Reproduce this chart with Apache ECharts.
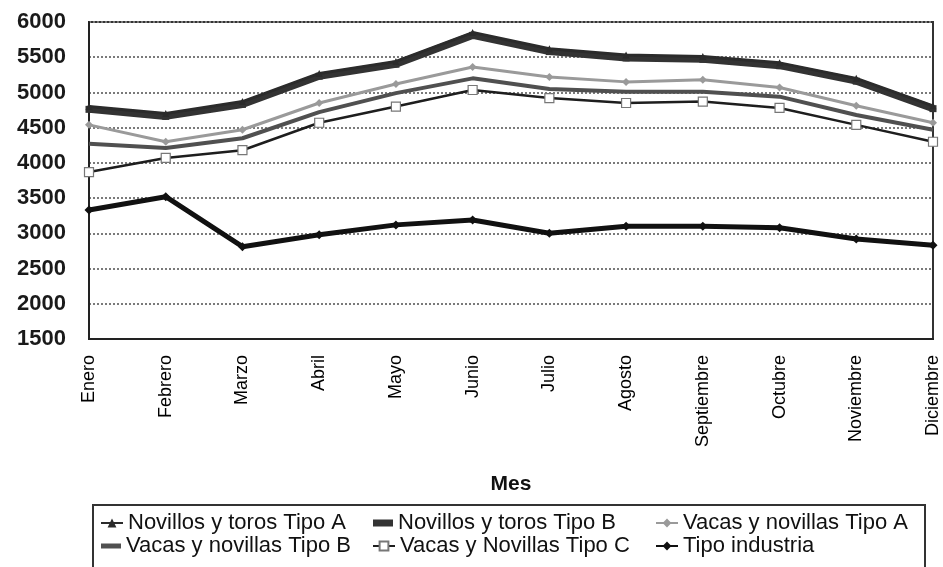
<!DOCTYPE html>
<html>
<head>
<meta charset="utf-8">
<script src="https://cdn.jsdelivr.net/npm/echarts@6/dist/echarts.min.js"></script>
<style>
  html, body { margin: 0; padding: 0; background: #fff; }
  #chart { width: 943px; height: 567px; }
</style>
</head>
<body>
<div id="chart"></div>
<script>
// Monthly prices per cattle category
const meses = ['Enero', 'Febrero', 'Marzo', 'Abril', 'Mayo', 'Junio', 'Julio',
  'Agosto', 'Septiembre', 'Octubre', 'Noviembre', 'Diciembre'];

const novillosA = [4800, 4700, 4870, 5270, 5440, 5850, 5620, 5530, 5510, 5420, 5200, 4810];
const novillosB = [4760, 4660, 4830, 5230, 5400, 5810, 5580, 5490, 5470, 5380, 5160, 4770];
const vacasA = [4540, 4300, 4470, 4850, 5120, 5360, 5220, 5150, 5180, 5070, 4810, 4570];
const vacasB = [4270, 4210, 4350, 4720, 4990, 5200, 5050, 5010, 5010, 4940, 4680, 4470];
const vacasC = [3870, 4070, 4180, 4570, 4800, 5035, 4920, 4850, 4870, 4780, 4540, 4300];
const industria = [3330, 3520, 2810, 2980, 3120, 3190, 3000, 3100, 3100, 3080, 2920, 2830];

const yTicks = { min: 1500, max: 6000, step: 500 };

const FONT = 'Liberation Sans, Arial, sans-serif';

const chart = echarts.init(document.getElementById('chart'), null, { renderer: 'canvas' });

// legendIcon: optional override of the key drawn in the legend box
const seriesDefs = [
  { name: 'Novillos y toros Tipo A', data: novillosA, color: '#2b2b2b', width: 3, symbol: 'triangle', size: 7, z: 6 },
  { name: 'Novillos y toros Tipo B', data: novillosB, color: '#333333', width: 7, symbol: 'rect', size: 7, z: 5,
    legendIcon: { icon: 'rect', w: 20, h: 7 } },
  { name: 'Vacas y novillas Tipo A', data: vacasA, color: '#9a9a9a', width: 3, symbol: 'diamond', size: 8, z: 4 },
  { name: 'Vacas y novillas Tipo B', data: vacasB, color: '#505050', width: 4, symbol: 'none', size: 0, z: 3,
    legendIcon: { icon: 'rect', w: 20, h: 5 } },
  { name: 'Vacas y Novillas Tipo C', data: vacasC, color: '#1e1e1e', width: 2.5, symbol: 'rect', size: 9, z: 4, hollow: true },
  { name: 'Tipo industria', data: industria, color: '#111111', width: 5, symbol: 'diamond', size: 9, z: 6 }
];

const series = seriesDefs.map(d => ({
  name: d.name,
  type: 'line',
  data: d.data,
  z: d.z,
  symbol: d.symbol,
  symbolSize: d.size,
  showSymbol: d.symbol !== 'none',
  lineStyle: { color: d.color, width: d.width },
  itemStyle: d.hollow
    ? { color: '#ffffff', borderColor: '#777777', borderWidth: 1.2 }
    : { color: d.color, borderColor: d.color, borderWidth: 0 },
  emphasis: { disabled: true },
  animation: false
}));

// Legend laid out as a 3 x 2 table inside a framed box
const legendCols = [100, 372, 655];
const legendRows = [512, 535];
const legends = seriesDefs.map((d, i) => {
  const ic = d.legendIcon;
  return {
    data: [ic ? { name: d.name, icon: ic.icon, itemStyle: { color: d.color } } : d.name],
    left: legendCols[i % 3] + (ic ? 1 : 0),
    top: legendRows[Math.floor(i / 3)],
    padding: 0,
    itemWidth: ic ? ic.w : 22,
    itemHeight: ic ? ic.h : 11,
    itemGap: 0,
    selectedMode: false,
    textStyle: { fontFamily: FONT, fontSize: 22, color: '#111' }
  };
});

chart.setOption({
  backgroundColor: '#ffffff',
  animation: false,
  grid: {
    left: 89, right: 10, top: 22, bottom: 228,
    show: true, borderColor: '#333', borderWidth: 2, backgroundColor: 'transparent'
  },
  xAxis: {
    type: 'category',
    data: meses,
    boundaryGap: false,
    name: 'Mes',
    nameLocation: 'middle',
    nameGap: 135,
    nameTextStyle: { fontFamily: FONT, fontSize: 21, fontWeight: 'bold', color: '#111' },
    axisLine: { show: true, lineStyle: { color: '#222', width: 2 } },
    axisTick: { show: false },
    axisLabel: {
      rotate: 90, margin: 16, interval: 0,
      fontFamily: FONT, fontSize: 18, color: '#000'
    },
    splitLine: { show: false }
  },
  yAxis: {
    type: 'value',
    min: yTicks.min, max: yTicks.max, interval: yTicks.step,
    axisLine: { show: true, lineStyle: { color: '#222', width: 2 } },
    axisTick: { show: false },
    axisLabel: {
      margin: 23, fontFamily: FONT, fontSize: 22, fontWeight: 'bold', color: '#1a1a1a',
      formatter: v => String(v)
    },
    splitLine: { show: true, lineStyle: { color: '#7a7a7a', width: 2, type: [2, 2] } }
  },
  legend: legends,
  graphic: [{
    type: 'rect',
    shape: { x: 93, y: 505, width: 832, height: 90 },
    style: { fill: 'none', stroke: '#333', lineWidth: 2 },
    z: -1
  }],
  series: series
});
</script>
</body>
</html>
